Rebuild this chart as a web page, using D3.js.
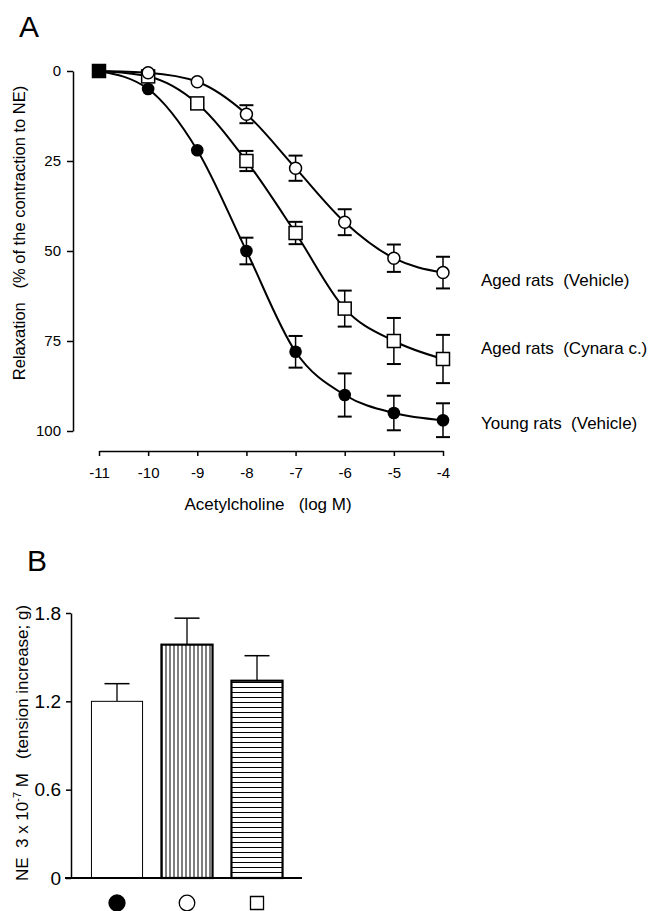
<!DOCTYPE html>
<html>
<head>
<meta charset="utf-8">
<script src="https://cdn.jsdelivr.net/npm/d3@7"></script>
<style>
  body { margin: 0; background: #fff; }
  svg { font-family: "Liberation Sans", Arial, sans-serif; }
  text { white-space: pre; }
</style>
</head>
<body>
<svg id="fig" width="655" height="911"></svg>
<script>
"use strict";

// ---- panel A data: relaxation to acetylcholine ----
const logDose = [-11, -10, -9, -8, -7, -6, -5, -4];
const agedVehicle = [0, 0.5, 3, 12, 27, 42, 52, 56];
const agedVehicleErr = [0, 0.5, 1, 2.5, 3.5, 3.6, 3.8, 4.4];
const agedCynara = [0, 1.5, 9, 25, 45, 66, 75, 80];
const agedCynaraErr = [0, 0.5, 1, 2.8, 3.1, 5, 6.4, 6.7];
const youngVehicle = [0, 5, 22, 50, 78, 90, 95, 97];
const youngVehicleErr = [0, 0.5, 1, 3.7, 4.4, 6, 4.8, 4.7];
const yTicksA = [0, 25, 50, 75, 100];
const seriesLabels = ["Aged rats  (Vehicle)", "Aged rats  (Cynara c.)", "Young rats  (Vehicle)"];

// ---- panel B data: NE contraction ----
const groupsB = ["young", "aged", "cynara"];
const tensionB = [1.2, 1.585, 1.34];
const tensionErrB = [0.12, 0.18, 0.17];
const yTicksB = [0, 0.6, 1.2, 1.8];

const svg = d3.select("#fig");

// pattern fills for panel B
let defs = svg.append("defs");
defs.append("pattern").attr("id", "vstripes").attr("patternUnits", "userSpaceOnUse")
    .attr("width", 4).attr("height", 10)
    .append("line").attr("x1", 2).attr("x2", 2).attr("y1", 0).attr("y2", 10)
    .attr("stroke", "#000").attr("stroke-width", 1);
defs.append("pattern").attr("id", "hstripes").attr("patternUnits", "userSpaceOnUse")
    .attr("width", 10).attr("height", 5)
    .append("line").attr("x1", 0).attr("x2", 10).attr("y1", 2.5).attr("y2", 2.5)
    .attr("stroke", "#000").attr("stroke-width", 1);

// ================= Panel A =================
svg.append("text").attr("x", 19).attr("y", 37).style("font-size", "30px").text("A");

let xA = d3.scaleLinear().domain([-11, -4]).range([99, 443]);
let yA = d3.scaleLinear().domain([0, 100]).range([71, 431]);

let yAxisA = svg.append("g").attr("transform", "translate(73,0)")
    .call(d3.axisLeft(yA).tickValues(yTicksA).tickSize(6).tickSizeOuter(0).tickPadding(6));
let xAxisA = svg.append("g").attr("transform", "translate(0,451)")
    .call(d3.axisBottom(xA).tickValues(logDose).tickSize(5).tickSizeOuter(0).tickPadding(11)
        .tickFormat(d => String(d)));
[yAxisA, xAxisA].forEach(ax => {
    ax.select(".domain").attr("stroke", "#000").attr("stroke-width", 1.5);
    ax.selectAll(".tick line").attr("stroke", "#000").attr("stroke-width", 1.5);
    ax.selectAll(".tick text").attr("fill", "#000").style("font-size", "15px");
});

svg.append("text").attr("x", 268).attr("y", 510).attr("text-anchor", "middle")
    .style("font-size", "17px").text("Acetylcholine   (log M)");
svg.append("text").attr("transform", "translate(25,233) rotate(-90)").attr("text-anchor", "middle")
    .style("font-size", "16.5px").text("Relaxation   (% of the contraction to NE)");

let series = [
    {vals: agedCynara, err: agedCynaraErr, shape: "square"},
    {vals: agedVehicle, err: agedVehicleErr, shape: "open"},
    {vals: youngVehicle, err: youngVehicleErr, shape: "filled"}
];

let line = d3.line().x((d, i) => xA(logDose[i])).y(d => yA(d)).curve(d3.curveMonotoneX);

series.forEach(s => {
    svg.append("path").attr("d", line(s.vals)).attr("fill", "none")
        .attr("stroke", "#000").attr("stroke-width", 2);
});

series.forEach(s => {
    let g = svg.append("g");
    s.vals.forEach((v, i) => {
        let cx = xA(logDose[i]);
        if (s.err[i] > 1.5) {
            let y0 = yA(v - s.err[i]), y1 = yA(v + s.err[i]);
            g.append("line").attr("x1", cx).attr("x2", cx).attr("y1", y0).attr("y2", y1)
                .attr("stroke", "#000").attr("stroke-width", 1.5);
            [y0, y1].forEach(yy => g.append("line").attr("x1", cx - 7).attr("x2", cx + 7)
                .attr("y1", yy).attr("y2", yy).attr("stroke", "#000").attr("stroke-width", 2));
        }
    });
    s.vals.forEach((v, i) => {
        let cx = xA(logDose[i]), cy = yA(v);
        if (s.shape === "square") {
            // overlapping start point appears solid black in the original
            let solid = v === youngVehicle[i];
            g.append("rect").attr("x", cx - 6.5).attr("y", cy - 6.5).attr("width", 13).attr("height", 13)
                .attr("fill", solid ? "#000" : "#fff").attr("stroke", "#000").attr("stroke-width", 1.5);
        } else if (s.shape === "open") {
            if (i === 0) return;
            g.append("circle").attr("cx", cx).attr("cy", cy).attr("r", 6)
                .attr("fill", "#fff").attr("stroke", "#000").attr("stroke-width", 1.5);
        } else {
            if (i === 0) return;
            g.append("circle").attr("cx", cx).attr("cy", cy).attr("r", 6.3).attr("fill", "#000");
        }
    });
});

// series labels to the right, in value units
let labelAt = [58.2, 76.9, 97.7];
seriesLabels.forEach((t, i) => {
    svg.append("text").attr("x", 481).attr("y", yA(labelAt[i])).attr("dy", "0.35em")
        .style("font-size", "17px").text(t);
});

// ================= Panel B =================
svg.append("text").attr("x", 27).attr("y", 571).style("font-size", "30px").text("B");

let xB = d3.scaleBand().domain(groupsB).range([82, 292]).paddingInner(0.27).paddingOuter(0.135);
let yB = d3.scaleLinear().domain([0, 1.8]).range([878, 613]);

let yAxisB = svg.append("g").attr("transform", "translate(71,0)")
    .call(d3.axisLeft(yB).tickValues(yTicksB).tickSize(5).tickSizeOuter(0).tickPadding(5)
        .tickFormat(d => d === 0 ? "0" : d.toFixed(1)));
yAxisB.select(".domain").attr("stroke", "#000").attr("stroke-width", 1.5);
yAxisB.selectAll(".tick line").attr("stroke", "#000").attr("stroke-width", 1.5);
yAxisB.selectAll(".tick text").attr("fill", "#000").style("font-size", "19px");

svg.append("text").attr("transform", "translate(28,743) rotate(-90)").attr("text-anchor", "middle")
    .style("font-size", "17px")
    .html('NE  3 x 10<tspan dy="-7" style="font-size:11px">-7</tspan><tspan dy="7"> M   (tension increase; g)</tspan>');

let fills = ["#fff", "url(#vstripes)", "url(#hstripes)"];
let borders = [1, 2.2, 2.2];

groupsB.forEach((k, i) => {
    let x0 = xB(k), w = xB.bandwidth(), cx = x0 + w / 2;
    let top = yB(tensionB[i]), cap = yB(tensionB[i] + tensionErrB[i]);
    svg.append("line").attr("x1", cx).attr("x2", cx).attr("y1", top).attr("y2", cap)
        .attr("stroke", "#000").attr("stroke-width", 1.3);
    svg.append("line").attr("x1", cx - 12.5).attr("x2", cx + 12.5).attr("y1", cap).attr("y2", cap)
        .attr("stroke", "#000").attr("stroke-width", 1.5);
    svg.append("rect").attr("x", x0).attr("y", top).attr("width", w).attr("height", yB(0) - top)
        .attr("fill", fills[i]).attr("stroke", "#000").attr("stroke-width", borders[i]);
});

// baseline of panel B
svg.append("line").attr("x1", xB.range()[0] - 17).attr("x2", xB.range()[1] + 10)
    .attr("y1", yB(0)).attr("y2", yB(0)).attr("stroke", "#000").attr("stroke-width", 2);

// group symbols under the bars
let symY = 903;
let symDefs = [
    {type: d3.symbolCircle, size: 201, fill: "#000"},
    {type: d3.symbolCircle, size: 190, fill: "#fff"},
    {type: d3.symbolSquare, size: 170, fill: "#fff"}
];
groupsB.forEach((k, i) => {
    svg.append("path")
        .attr("transform", `translate(${xB(k) + xB.bandwidth() / 2},${symY})`)
        .attr("d", d3.symbol().type(symDefs[i].type).size(symDefs[i].size)())
        .attr("fill", symDefs[i].fill).attr("stroke", "#000").attr("stroke-width", 1.3);
});
</script>
</body>
</html>
